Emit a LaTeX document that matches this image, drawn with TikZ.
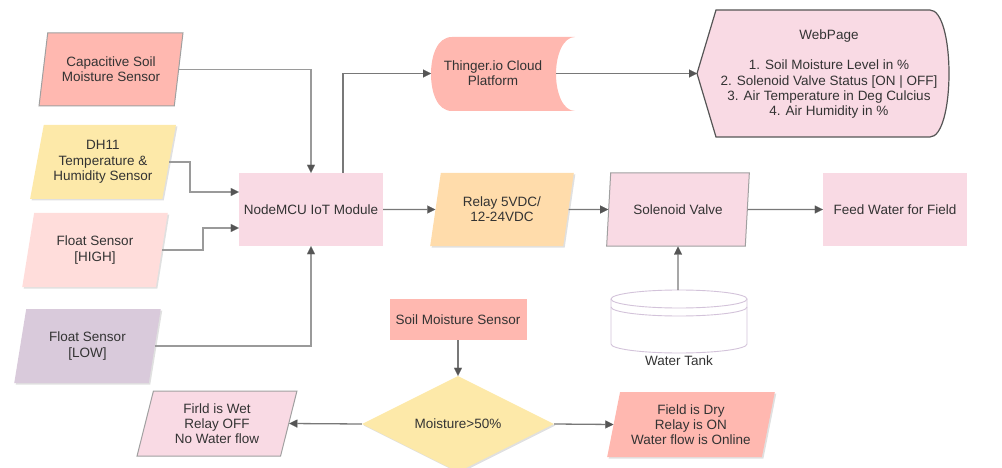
\documentclass[tikz,border=0pt]{standalone}
\usepackage{fontspec}
\setmainfont{Liberation Sans}
\usetikzlibrary{shapes.geometric,arrows.meta,shadows}
\definecolor{salmon}{HTML}{FFB8B0}
\definecolor{yel}{HTML}{FDE9A9}
\definecolor{hi}{HTML}{FFDDDB}
\definecolor{low}{HTML}{D9CADB}
\definecolor{pinkc}{HTML}{F9DAE4}
\definecolor{relayc}{HTML}{FFDCAB}
\definecolor{txt}{HTML}{333333}
\definecolor{bordc}{HTML}{A0A0A0}
\definecolor{webb}{HTML}{555555}
\definecolor{linec}{HTML}{787878}
\definecolor{linel}{HTML}{9A9A9A}
\definecolor{tipc}{HTML}{555555}
\definecolor{tankc}{HTML}{D3C3DA}
\begin{document}
\begin{tikzpicture}[x=1pt,y=-1pt,
  lbl/.style={font=\fontsize{13.5}{15.3}\selectfont, text=txt, align=center},
  para/.style={lbl, trapezium, trapezium left angle=75, trapezium right angle=105,
    trapezium stretches=true, inner sep=0pt, minimum height=73pt},
  box/.style={lbl, rectangle, inner sep=0pt, minimum width=144pt, minimum height=73pt},
  brd/.style={draw=bordc, line width=1pt},
  shd/.style={drop shadow={shadow xshift=1.5pt, shadow yshift=-1.5pt, opacity=0.12, fill=black}},
  arr/.style={draw=linec, line width=1.3pt, -{Triangle[length=8pt, width=8pt, line width=0.1pt, fill=tipc, color=tipc]}},
  arrl/.style={arr, draw=linel, line width=1.6pt},
]
\useasboundingbox (0,0) rectangle (1002,468);

% sensors on the left
\node[para, fill=salmon, brd, minimum width=144pt] (cap) at (111,69.5) {Capacitive Soil\\Moisture Sensor};
\node[para, fill=yel, shd, minimum width=146pt, minimum height=74pt] (dh) at (103,162) {DH11\\Temperature \&\\Humidity Sensor};
\node[para, fill=hi, shd, minimum width=146pt, minimum height=74pt] (high) at (95,250) {Float Sensor\\{[HIGH]}};
\node[para, fill=low, shd, minimum width=147pt, minimum height=74pt] (low) at (87.5,346) {Float Sensor\\{[LOW]}};

% main module and actuators
\node[box, fill=pinkc] (mcu) at (311,209.5) {NodeMCU IoT Module};
\node[para, fill=relayc, shd, minimum width=144pt] (relay) at (502,209.5) {Relay 5VDC/\\12-24VDC};
\node[para, fill=pinkc, brd, minimum width=144pt] (sol) at (678,209.5) {Solenoid Valve};
\node[box, fill=pinkc] (feed) at (895,209.5) {Feed Water for Field};

% Thinger cloud (stored data shape)
\fill[salmon] (452,37) -- (575,37) .. controls (563,37) and (556,55) .. (556,74)
  .. controls (556,93) and (563,111) .. (575,111) -- (452,111)
  .. controls (437,111) and (431,92) .. (431,74) .. controls (431,56) and (437,37) .. (452,37) -- cycle;
\node[lbl] (th) at (493,73.5) {Thinger.io Cloud\\Platform};
\coordinate (thin) at (431,73.5);
\coordinate (thout) at (556,73.5);

% WebPage (display shape)
\filldraw[fill=pinkc, draw=webb, line width=1.2pt] (697,73.5) -- (716,10) -- (930,10)
  .. controls (942,10) and (949,40) .. (949,73.5) .. controls (949,107) and (942,137) .. (930,137)
  -- (716,137) -- cycle;
\coordinate (webin) at (697,73.5);
\node[lbl] (web) at (829,74) {WebPage\\[15.3pt]1. Soil Moisture Level in \%\\2. Solenoid Valve Status [ON | OFF]\\3. Air Temperature in Deg Culcius\\4. Air Humidity in \%};

% Water tank
\fill[white] (611,299) -- (611,344) .. controls (611,348.97) and (641.44,353) .. (679,353)
  .. controls (716.56,353) and (747,348.97) .. (747,344) -- (747,299) -- cycle;
\draw[tankc, line width=0.9pt] (611,299) -- (611,344) .. controls (611,348.97) and (641.44,353) .. (679,353)
  .. controls (716.56,353) and (747,348.97) .. (747,344) -- (747,299);
\draw[tankc, line width=0.9pt, fill=white] (679,299) ellipse [x radius=68pt, y radius=9pt];
\draw[tankc, line width=0.9pt] (611,307) .. controls (611,311.97) and (641.44,316) .. (679,316)
  .. controls (716.56,316) and (747,311.97) .. (747,307);
\coordinate (tanktop) at (678,290);
\node[lbl] (tanklbl) at (679,361) {Water Tank};

% decision part
\node[box, fill=salmon, minimum width=137pt, minimum height=41pt] (soil) at (458,319.5) {Soil Moisture Sensor};
\node[lbl, diamond, fill=yel, shd, minimum width=192pt, minimum height=96pt, inner sep=0pt, aspect=2] (dia) at (458,424) {Moisture>50\%};
\node[para, fill=pinkc, brd, minimum width=160pt, minimum height=65pt] (wet) at (217,423.5) {Firld is Wet\\Relay OFF\\No Water flow};
\node[para, fill=salmon, shd, minimum width=168pt, minimum height=65pt] (dry) at (691,424.5) {Field is Dry\\Relay is ON\\Water flow is Online};

% junction helpers
\coordinate (dj) at (190,0);
\coordinate (hj) at (203,0);

% connectors
\draw[arrl] (cap.east) -| (mcu.north);
\draw[arrl] (dh.east) -- (dh.east -| dj) |- ([yshift=17.5pt]mcu.west);
\draw[arrl] (high.east) -- (high.east -| hj) |- ([yshift=-18.5pt]mcu.west);
\draw[arrl] (low.east) -| (mcu.south);
\draw[arr] ([xshift=32pt]mcu.north) |- (thin);
\draw[arr] (thout) -- (webin);
\draw[arr] (mcu.east) -- (relay.west);
\draw[arr] (relay.east) -- (sol.west);
\draw[arr] (sol.east) -- (feed.west);
\draw[arr] (tanktop) -- (sol.south);
\draw[arr] (soil.south) -- (dia.north);
\draw[arr] (dia.west) -- (wet.east);
\draw[arr] (dia.east) -- ([yshift=0pt]dry.west);
\end{tikzpicture}
\end{document}
